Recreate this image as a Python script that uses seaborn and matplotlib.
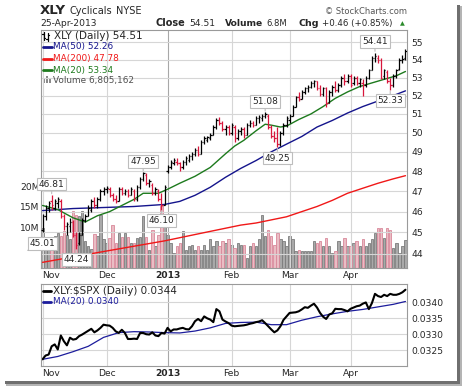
import numpy as np
import pandas as pd
import matplotlib.pyplot as plt
import matplotlib.ticker as mticker
import seaborn as sns
from matplotlib.lines import Line2D
from matplotlib.patches import Rectangle

# ---- data (XLY daily, Nov 2012 - Apr 2013) ----
holidays = ['2012-11-22', '2012-12-25', '2013-01-01', '2013-01-21', '2013-02-18', '2013-03-29']
month_labels = ['Nov', 'Dec', '2013', 'Feb', 'Mar', 'Apr']

opens = [45.10, 45.80, 46.20, 46.50, 46.20, 46.40, 46.50, 45.80, 45.30, 45.30, 45.50, 44.90, 44.50, 44.90, 45.60,
         45.80, 46.10, 46.50, 46.30, 46.60, 47.00,
         47.10, 47.10, 46.80, 46.60, 46.50, 47.10, 46.90, 47.00, 46.80, 47.00, 46.60, 47.20, 47.60, 47.80, 47.40,
         47.30, 46.90, 47.00, 46.60, 46.30,
         48.00, 48.20, 48.40, 48.50, 48.40, 48.20, 48.50, 48.60, 48.80, 48.90, 49.10, 48.90, 49.50, 49.60, 49.70,
         49.90, 50.30, 50.70, 50.50, 50.20, 50.30,
         50.00, 50.30, 49.70, 50.10, 50.20, 49.90, 50.40, 50.50, 50.40, 50.80, 50.80, 50.90, 50.90, 50.30, 49.80,
         49.70, 49.40, 50.00, 50.40,
         50.70, 50.90, 51.40, 51.90, 51.80, 52.20, 52.40, 52.50, 52.70, 52.80, 52.40, 52.10, 52.40, 51.60, 52.20,
         52.50, 52.30, 52.60, 53.00, 52.80,
         53.10, 52.70, 53.00, 52.70, 52.70, 52.60, 53.00, 53.40, 54.10, 54.10, 54.00, 53.10, 53.30, 52.80, 52.60,
         53.10, 53.50, 54.00, 54.10]
highs = [45.90, 46.30, 46.50, 46.81, 46.60, 46.70, 46.60, 45.90, 45.50, 45.70, 45.60, 45.00, 45.00, 45.70, 45.90,
         46.30, 46.60, 46.70, 46.70, 47.10, 47.20,
         47.25, 47.20, 46.90, 46.80, 47.20, 47.20, 47.10, 47.10, 47.20, 47.10, 47.30, 47.70, 47.95, 47.90, 47.60,
         47.40, 47.20, 47.10, 46.90, 47.30,
         48.30, 48.60, 48.70, 48.70, 48.50, 48.60, 48.80, 48.90, 49.00, 49.20, 49.30, 49.60, 49.80, 49.85, 50.00,
         50.40, 50.80, 50.85, 50.60, 50.40, 50.40,
         50.50, 50.40, 50.20, 50.30, 50.30, 50.50, 50.70, 50.60, 50.90, 50.95, 51.00, 51.08, 51.00, 50.40, 50.10,
         50.30, 50.10, 50.50, 50.90,
         51.00, 51.50, 52.00, 52.20, 52.30, 52.50, 52.60, 52.80, 52.85, 52.80, 52.60, 52.50, 52.50, 52.30, 52.60,
         52.80, 52.70, 53.10, 53.20, 53.20,
         53.20, 53.10, 53.10, 53.00, 52.90, 53.10, 53.50, 54.20, 54.41, 54.30, 54.10, 53.50, 53.40, 53.00, 53.20,
         53.50, 54.10, 54.30, 54.65]
lows = [45.01, 45.60, 46.00, 46.10, 46.10, 46.20, 45.70, 45.10, 44.90, 45.00, 44.80, 44.24, 44.40, 44.90, 45.50,
        45.80, 46.00, 46.20, 46.20, 46.50, 46.80,
        46.90, 46.70, 46.50, 46.40, 46.50, 46.80, 46.80, 46.70, 46.80, 46.50, 46.50, 47.10, 47.50, 47.30, 47.20,
        46.80, 46.80, 46.50, 46.10, 46.30,
        47.90, 48.10, 48.30, 48.30, 48.00, 48.10, 48.30, 48.50, 48.60, 48.80, 48.80, 48.90, 49.40, 49.50, 49.60,
        49.90, 50.20, 50.40, 50.10, 49.90, 49.90,
        49.90, 49.50, 49.60, 49.90, 49.70, 49.90, 50.30, 50.30, 50.40, 50.50, 50.60, 50.80, 50.20, 49.70, 49.50,
        49.25, 49.30, 49.90, 50.30,
        50.50, 50.90, 51.40, 51.70, 51.80, 52.10, 52.20, 52.40, 52.50, 52.30, 52.00, 52.00, 51.40, 51.60, 52.00,
        52.20, 52.20, 52.50, 52.60, 52.70,
        52.50, 52.60, 52.60, 52.50, 51.95, 52.50, 52.90, 53.40, 53.90, 53.80, 52.90, 52.90, 52.70, 52.33, 52.50,
        53.00, 53.40, 53.80, 54.00]
closes = [45.80, 46.20, 46.40, 46.30, 46.50, 46.60, 45.80, 45.30, 45.40, 45.50, 44.90, 44.40, 44.90, 45.60, 45.80,
          46.20, 46.50, 46.30, 46.60, 47.00, 47.10,
          47.15, 46.80, 46.60, 46.50, 47.10, 46.90, 47.00, 46.80, 47.10, 46.60, 47.20, 47.60, 47.90, 47.40, 47.50,
          46.90, 47.10, 46.60, 46.30, 47.20,
          48.20, 48.50, 48.60, 48.40, 48.20, 48.50, 48.70, 48.80, 48.90, 49.10, 48.90, 49.50, 49.70, 49.75, 49.90,
          50.30, 50.70, 50.50, 50.20, 50.30, 50.00,
          50.40, 49.70, 50.10, 50.20, 49.90, 50.40, 50.50, 50.40, 50.80, 50.85, 50.90, 51.00, 50.30, 49.80, 49.70,
          49.40, 50.00, 50.40, 50.80,
          50.90, 51.40, 51.90, 51.80, 52.20, 52.40, 52.50, 52.70, 52.80, 52.40, 52.10, 52.40, 51.60, 52.20, 52.50,
          52.30, 52.60, 53.00, 52.80, 53.10,
          52.60, 53.00, 52.70, 52.90, 52.60, 53.00, 53.40, 54.10, 54.20, 54.00, 53.00, 53.40, 52.80, 52.60, 53.10,
          53.40, 54.00, 54.05, 54.51]

# volume in millions of shares
vol_nov = [9.8, 5.3, 7.5, 7.0, 7.8, 8.6, 7.8, 9.0, 8.0, 7.0, 13.9, 13.0, 12.6, 14.0, 6.5, 5.3, 4.6, 8.2, 7.8, 13.0, 7.0]
vol_dec = [6.0, 7.4, 10.6, 6.1, 8.5, 7.7, 8.5, 7.7, 6.1, 6.1, 7.3, 7.7, 12.6, 7.7, 4.5, 9.3, 5.3, 8.1, 15.1, 12.6]
vol_jan = [8.1, 6.1, 3.7, 5.3, 6.1, 9.0, 4.5, 5.3, 5.7, 4.5, 5.3, 4.5, 5.7, 4.5, 7.0, 5.3, 6.6, 5.3, 6.6, 6.1, 7.0]
vol_feb = [5.7, 4.9, 6.0, 5.7, 5.7, 2.5, 5.3, 6.1, 5.3, 7.0, 13.0, 7.8, 9.4, 7.8, 5.7, 8.6, 7.0, 6.5, 5.3]
vol_mar = [7.8, 7.0, 4.1, 4.5, 4.1, 4.1, 4.1, 4.1, 6.5, 6.1, 6.5, 5.3, 7.4, 5.3, 3.7, 4.1, 6.5, 5.3, 7.4, 5.3]
vol_apr = [5.3, 6.1, 6.5, 5.3, 7.0, 5.3, 6.1, 7.0, 8.6, 9.8, 9.8, 7.4, 9.8, 9.4, 4.9, 6.1, 3.7, 5.5, 6.8]

# moving averages, read every few bars (bar index, value)
ma_idx = [0, 10, 20, 30, 40, 45, 50, 55, 60, 65, 70, 75, 80, 85, 90, 95, 100, 105, 110, 115, 119]
ma50 = [46.05, 46.15, 46.20, 46.25, 46.35, 46.50, 46.80, 47.20, 47.70, 48.15, 48.55, 49.00, 49.40, 49.80,
        50.30, 50.65, 51.05, 51.40, 51.70, 52.00, 52.26]
ma200 = [43.60, 43.85, 44.10, 44.35, 44.60, 44.75, 44.90, 45.05, 45.20, 45.35, 45.45, 45.60, 45.75, 46.00,
         46.25, 46.55, 46.90, 47.15, 47.40, 47.62, 47.78]
ma20_idx = [0, 5, 10, 14, 18, 22, 26, 30, 33, 38, 41, 45, 50, 55, 60, 63, 66, 70, 73, 75, 78, 80, 84, 88, 92,
            96, 100, 104, 108, 112, 116, 119]
ma20 = [46.30, 46.10, 45.70, 45.50, 45.80, 46.00, 46.30, 46.60, 46.90, 46.90, 47.10, 47.40, 47.75, 48.20, 48.90,
        49.30, 49.60, 50.10, 50.45, 50.40, 50.30, 50.35, 50.70, 51.00, 51.40, 51.85, 52.20, 52.50, 52.70, 52.90,
        53.10, 53.34]

# XLY:$SPX ratio, one value per bar
ratio = [0.03221, 0.03233, 0.03236, 0.03262, 0.03268, 0.03252, 0.03296, 0.03278, 0.03265, 0.03289, 0.03283,
         0.03285, 0.03294, 0.03299, 0.03305, 0.03311, 0.03317, 0.03306, 0.03312, 0.03320, 0.03330, 0.03328,
         0.03327, 0.03320, 0.03309, 0.03304, 0.03314, 0.03304, 0.03285, 0.03285, 0.03286, 0.03285, 0.03304,
         0.03304, 0.03300, 0.03299, 0.03306, 0.03296, 0.03294, 0.03304, 0.03302, 0.03320, 0.03309, 0.03315,
         0.03315, 0.03318, 0.03320, 0.03316, 0.03315, 0.03325, 0.03341, 0.03348, 0.03341, 0.03356, 0.03350,
         0.03346, 0.03338, 0.03379, 0.03372, 0.03346, 0.03340, 0.03335, 0.03327, 0.03325, 0.03326, 0.03327,
         0.03328, 0.03330, 0.03333, 0.03335, 0.03338, 0.03340, 0.03344, 0.03335, 0.03325, 0.03315, 0.03306,
         0.03312, 0.03325, 0.03345, 0.03356, 0.03367, 0.03368, 0.03369, 0.03372, 0.03378, 0.03385, 0.03383,
         0.03390, 0.03396, 0.03384, 0.03367, 0.03355, 0.03348, 0.03362, 0.03366, 0.03380, 0.03379, 0.03379,
         0.03376, 0.03372, 0.03380, 0.03384, 0.03388, 0.03390, 0.03396, 0.03400, 0.03379, 0.03398, 0.03427,
         0.03420, 0.03417, 0.03424, 0.03420, 0.03427, 0.03424, 0.03424, 0.03427, 0.03432, 0.03440]
ratio_ma_idx = [0, 5, 10, 15, 20, 25, 30, 35, 40, 45, 50, 55, 60, 65, 70, 75, 80, 85, 90, 95, 100, 105, 110, 115, 119]
ratio_ma = [0.03221, 0.03230, 0.03245, 0.03262, 0.03290, 0.03305, 0.03308, 0.03307, 0.03305, 0.03304, 0.03310,
            0.03320, 0.03334, 0.03337, 0.03338, 0.03330, 0.03330, 0.03344, 0.03355, 0.03364, 0.03372, 0.03378,
            0.03386, 0.03394, 0.03403]

# bars with a labelled high / low
marked = [(3, 'high'), (0, 'low'), (11, 'low'), (33, 'high'), (39, 'low'),
          (73, 'high'), (77, 'low'), (109, 'high'), (114, 'low')]

# ---- setup ----
dates = pd.bdate_range('2012-11-01', '2013-04-25')
dates = dates[~dates.isin(pd.to_datetime(holidays))]
idx = np.arange(len(dates))
month_pos = [int(np.argmax(dates.month == m)) for m in [11, 12, 1, 2, 3, 4]]
volume = vol_nov + vol_dec + vol_jan + vol_feb + vol_mar + vol_apr
up = np.r_[True, np.diff(closes) >= 0]
bar_cols = np.where(up, '#000000', '#d8163c')

sns.set_theme(style="white")
plt.rcParams['font.family'] = ['DejaVu Sans']

W, H = 464, 387
fig = plt.figure(figsize=(W / 100, H / 100), dpi=100)
fig.patch.set_facecolor('white')


def fx(px):
    return px / W


def fy(py):
    return 1 - py / H


main_rect = [fx(41), fy(268), fx(407) - fx(41), fy(30) - fy(268)]
ax_vol = fig.add_axes(main_rect, zorder=0)
ax = fig.add_axes(main_rect, zorder=1)
ax.patch.set_alpha(0)
ax_r = fig.add_axes([fx(41), fy(366), fx(407) - fx(41), fy(284) - fy(366)])

xlim = (-0.5, len(idx) - 0.5)
grid_col = '#d6d6d6'
spine_col = '#9a9a9a'

# volume bars
vol_df = pd.DataFrame({'i': idx, 'vol': volume, 'dir': np.where(up, 'up', 'down')})
sns.barplot(data=vol_df, x='i', y='vol', hue='dir', palette={'up': '#a9a9a9', 'down': '#f1b6bf'},
            native_scale=True, dodge=False, width=0.8, legend=False, ax=ax_vol, linewidth=0.6)
for p in ax_vol.patches:
    fc = p.get_facecolor()
    p.set_edgecolor('#7c7c7c' if fc[0] < 0.8 else '#d9889a')
ax_vol.set_xlim(xlim)
ax_vol.set_ylim(0, 58.2)
ax_vol.set_yticks([5, 10, 15, 20])
ax_vol.set_yticklabels(['5M', '10M', '15M', '20M'])
ax_vol.tick_params(axis='y', length=0, pad=1, labelsize=6.6)
ax_vol.set_xticks([])
ax_vol.set_xlabel('')
ax_vol.set_ylabel('')
for s in ax_vol.spines.values():
    s.set_visible(False)

# price axis (log scale like the original)
ax.set_yscale('log')
ax.set_ylim(43.34, 55.73)
ax.set_xlim(xlim)
ax.yaxis.set_major_locator(mticker.FixedLocator(range(44, 56)))
ax.yaxis.set_major_formatter(mticker.FuncFormatter(lambda v, p: f'{v:.0f}'))
ax.yaxis.set_minor_locator(mticker.NullLocator())
ax.yaxis.tick_right()
ax.tick_params(axis='y', length=0, pad=3, labelsize=6.6)
ax.set_xticks(month_pos)
ax.set_xticklabels(month_labels)
ax.tick_params(axis='x', length=0, pad=2, labelsize=6.6)
ax.grid(True, color=grid_col, lw=0.8)
ax.set_axisbelow(True)
for s in ax.spines.values():
    s.set_color(spine_col)
    s.set_linewidth(0.8)

# moving averages
sns.lineplot(x=ma_idx, y=ma200, ax=ax, color='#f01818', lw=1.0, estimator=None)
sns.lineplot(x=ma_idx, y=ma50, ax=ax, color='#14148c', lw=1.0, estimator=None)
sns.lineplot(x=ma20_idx, y=ma20, ax=ax, color='#1d7a1d', lw=1.0, estimator=None)

# OHLC bars
ax.vlines(idx, lows, highs, colors=bar_cols, lw=0.9, zorder=3)
ax.hlines(opens, idx - 0.45, idx, colors=bar_cols, lw=0.9, zorder=3)
ax.hlines(closes, idx, idx + 0.45, colors=bar_cols, lw=0.9, zorder=3)
ax.set_xlabel('')
ax.set_ylabel('')

for i, kind in marked:
    val = highs[i] if kind == 'high' else lows[i]
    off = 11 if kind == 'high' else -11
    ax.annotate(f'{val:.2f}', xy=(i, val), xytext=(0, off), textcoords='offset pixels',
                ha='center', va='center', fontsize=6.5, zorder=6, annotation_clip=False,
                bbox=dict(boxstyle='square,pad=0.2', fc='white', ec='#bdbdbd', lw=0.8),
                arrowprops=dict(arrowstyle='-', color='#bdbdbd', lw=0.8, shrinkA=0, shrinkB=1))

# ratio panel
sns.lineplot(x=ratio_ma_idx, y=ratio_ma, ax=ax_r, color='#1c1c9c', lw=0.9, estimator=None)
sns.lineplot(x=idx, y=ratio, ax=ax_r, color='black', lw=1.5, estimator=None)
ax_r.set_xlim(xlim)
ax_r.set_ylim(0.03200, 0.03458)
ax_r.set_yticks([0.0325, 0.0330, 0.0335, 0.0340])
ax_r.yaxis.set_major_formatter(mticker.FuncFormatter(lambda v, p: f'{v:.4f}'))
ax_r.yaxis.tick_right()
ax_r.tick_params(axis='y', length=0, pad=3, labelsize=6.6)
ax_r.set_xticks(month_pos)
ax_r.set_xticklabels(month_labels)
ax_r.tick_params(axis='x', length=0, pad=2, labelsize=6.6)
ax_r.grid(True, color=grid_col, lw=0.8)
ax_r.set_axisbelow(True)
ax_r.set_xlabel('')
ax_r.set_ylabel('')
for s in ax_r.spines.values():
    s.set_color(spine_col)
    s.set_linewidth(0.8)

for a in (ax, ax_r):
    a.get_xticklabels()[2].set_fontweight('bold')
    a.get_xticklabels()[0].set_horizontalalignment('left')
    a.get_xgridlines()[2].set_color('#a8a8a8')

# header
fig.text(fx(40), fy(10.5), 'XLY', fontsize=9.5, fontweight='bold', va='center')
fig.text(fx(69), fy(11), 'Cyclicals', fontsize=7, va='center')
fig.text(fx(116), fy(11), 'NYSE', fontsize=7, va='center')
fig.text(fx(40), fy(23.5), '25-Apr-2013', fontsize=6.6, va='center')
fig.text(fx(155), fy(23.5), 'Close', fontsize=7.0, fontweight='bold', va='center')
fig.text(fx(189), fy(23.5), '54.51', fontsize=6.6, va='center')
fig.text(fx(225), fy(23.5), 'Volume', fontsize=6.6, fontweight='bold', va='center')
fig.text(fx(266), fy(23.5), '6.8M', fontsize=6.0, va='center')
fig.text(fx(299), fy(23.5), 'Chg', fontsize=6.8, fontweight='bold', va='center')
fig.text(fx(322), fy(23.5), '+0.46 (+0.85%)', fontsize=6.2, va='center')
fig.text(fx(400), fy(23.5), '\u25b2', fontsize=4.5, color='#2a8a2a', va='center')
fig.text(fx(407), fy(11), '\u00a9 StockCharts.com', fontsize=6, color='#555555', va='center', ha='right')


def fig_line(x0, x1, y0, y1, color, lw):
    fig.add_artist(Line2D([fx(x0), fx(x1)], [fy(y0), fy(y1)], transform=fig.transFigure, color=color, lw=lw))


# legends inside the panels
fig_line(44, 44, 32, 40, 'black', 0.9)
fig_line(42.5, 44, 34, 34, 'black', 0.9)
fig_line(44, 45.5, 38, 38, 'black', 0.9)
fig_line(48, 48, 33, 41, 'black', 0.9)
fig_line(46.5, 48, 39, 39, 'black', 0.9)
fig_line(48, 49.5, 35, 35, 'black', 0.9)
fig.text(fx(54), fy(36), 'XLY (Daily) 54.51', fontsize=7.5, va='center')
legend_rows = [(47, 'MA(50) 52.26', '#14148c'), (59, 'MA(200) 47.78', '#f01818'), (70, 'MA(20) 53.34', '#1d7a1d')]
for y, txt, col in legend_rows:
    fig_line(43, 52, y, y, col, 2.0)
    fig.text(fx(53), fy(y), txt, fontsize=6.4, color=col, va='center')
for k, hgt in enumerate([4, 7, 5]):
    fig.add_artist(Rectangle((fx(43 + k * 3), fy(83)), fx(2.2), hgt / H, transform=fig.transFigure,
                             fc='#8a8a8a', ec='none'))
fig.text(fx(53), fy(80), 'Volume 6,805,162', fontsize=6.4, color='#505050', va='center')

fig_line(43, 51, 290.5, 290.5, 'black', 2.0)
fig.text(fx(53), fy(290.5), 'XLY:$SPX (Daily) 0.0344', fontsize=7.5, va='center')
fig_line(43, 51, 301.5, 301.5, '#1c1c9c', 2.0)
fig.text(fx(53), fy(301.5), 'MA(20) 0.0340', fontsize=6.4, color='#1c1c9c', va='center')

# drop shadow around the chart
fig.add_artist(Rectangle((fx(457.5), fy(385)), fx(2.5), fy(5) - fy(385), transform=fig.transFigure,
                         fc='#6f6f6f', ec='none'))
fig.add_artist(Rectangle((fx(460), fy(385)), fx(2.5), fy(6) - fy(385), transform=fig.transFigure,
                         fc='#b4b4b4', ec='none'))
fig.add_artist(Rectangle((fx(5), fy(383.5)), fx(455), 2.5 / H, transform=fig.transFigure,
                         fc='#6f6f6f', ec='none'))
fig.add_artist(Rectangle((fx(6), fy(386)), fx(456), 2.5 / H, transform=fig.transFigure,
                         fc='#b4b4b4', ec='none'))

fig.savefig('out.png', dpi=100, facecolor='white')
